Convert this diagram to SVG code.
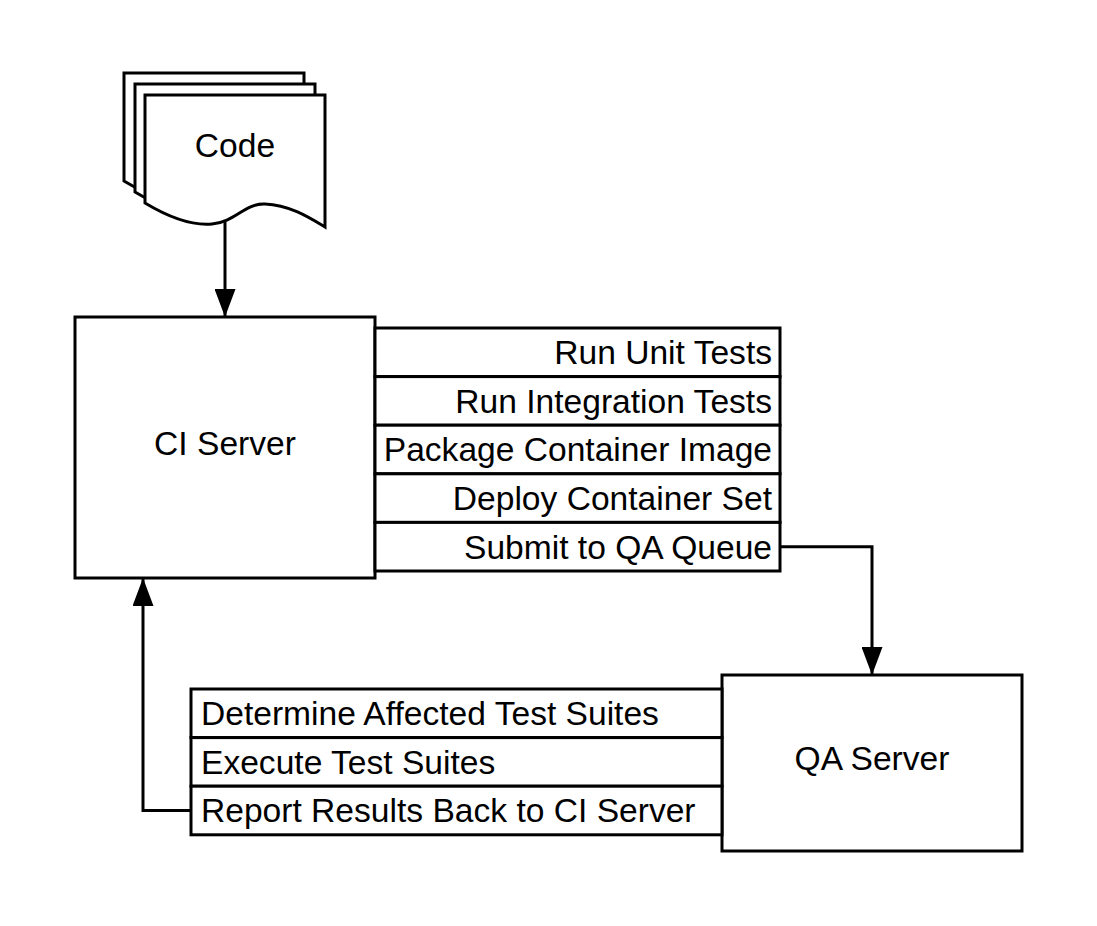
<svg xmlns="http://www.w3.org/2000/svg" width="1097" height="926" viewBox="0 0 1097 926">
<style>
.s{fill:#fff;stroke:#000;stroke-width:3}
.t{font-family:"Liberation Sans",Arial,sans-serif;font-size:33.6px;fill:#000}
.m{text-anchor:middle}
.e{text-anchor:end}
.c{fill:none;stroke:#000;stroke-width:3}
</style>
<defs>
<marker id="ah" markerUnits="userSpaceOnUse" markerWidth="28" markerHeight="21" viewBox="0 0 28 21" refX="27" refY="10.5" orient="auto">
<path d="M0,0 L28,10.5 L0,21 Z" fill="#000"/>
</marker>
<path id="doc" d="M145,95 H325 V227 C310,218 290,205 265,204 C245,203 235,222 212,224 C190,226 165,215 145,203 Z"/>
</defs>
<rect width="1097" height="926" fill="#fff"/>
<g id="code">
<use href="#doc" class="s" transform="translate(-21,-22)"/>
<use href="#doc" class="s" transform="translate(-10,-11)"/>
<use href="#doc" class="s"/>
<text class="t m" x="235" y="157">Code</text>
</g>
<g id="ci-server">
<rect class="s" x="75" y="317" width="300" height="261"/>
<text class="t m" x="225" y="455">CI Server</text>
</g>
<g id="ci-steps">
<rect class="s" x="375" y="328" width="405" height="48.6"/>
<text class="t e" x="772" y="364">Run Unit Tests</text>
<rect class="s" x="375" y="376.6" width="405" height="48.6"/>
<text class="t e" x="772" y="412.5">Run Integration Tests</text>
<rect class="s" x="375" y="425.2" width="405" height="48.6"/>
<text class="t e" x="772" y="461">Package Container Image</text>
<rect class="s" x="375" y="473.8" width="405" height="48.6"/>
<text class="t e" x="772" y="510">Deploy Container Set</text>
<rect class="s" x="375" y="522.4" width="405" height="48.6"/>
<text class="t e" x="772" y="558.5">Submit to QA Queue</text>
</g>
<g id="qa-server">
<rect class="s" x="722" y="675" width="300" height="176"/>
<text class="t m" x="872" y="770">QA Server</text>
</g>
<g id="qa-steps">
<rect class="s" x="191" y="689" width="531" height="48.6"/>
<text class="t" x="201" y="725">Determine Affected Test Suites</text>
<rect class="s" x="191" y="737.6" width="531" height="48.6"/>
<text class="t" x="201" y="774">Execute Test Suites</text>
<rect class="s" x="191" y="786.2" width="531" height="48.6"/>
<text class="t" x="201" y="822">Report Results Back to CI Server</text>
</g>
<g id="connectors">
<path class="c" d="M225,222 V316" marker-end="url(#ah)"/>
<path class="c" d="M780,546.7 H872 V674" marker-end="url(#ah)"/>
<path class="c" d="M191,810.5 H143 V579" marker-end="url(#ah)"/>
</g>
</svg>
